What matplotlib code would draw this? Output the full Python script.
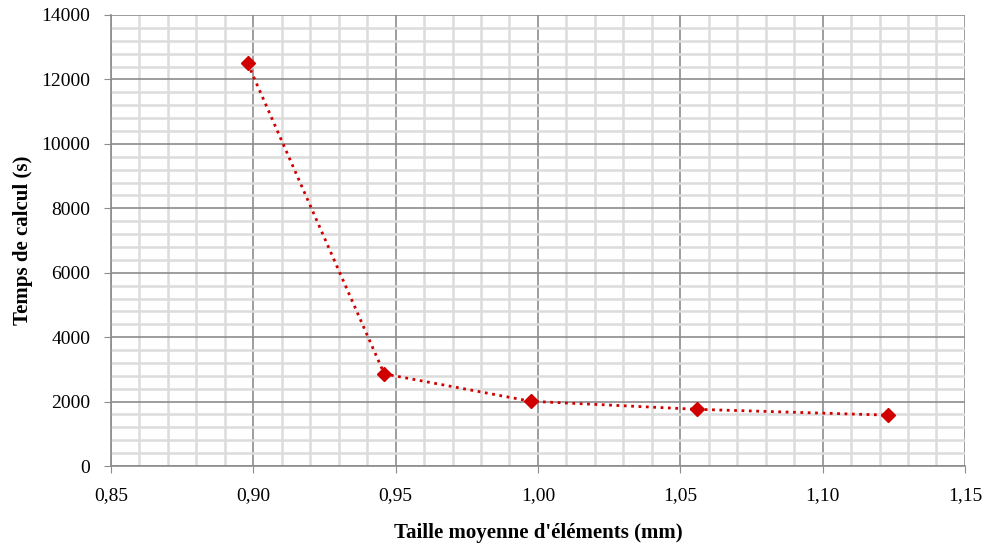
import matplotlib
matplotlib.use('Agg')
from matplotlib import pyplot as plt
from matplotlib.ticker import MultipleLocator, FuncFormatter
import numpy as np

# Data
taille = [0.898, 0.946, 0.9975, 1.056, 1.123]
temps = [12500, 2860, 2010, 1760, 1580]

plt.rcParams['font.family'] = ['Liberation Serif', 'DejaVu Serif']

fig = plt.figure(figsize=(9.86, 5.47), dpi=100)
ax = fig.add_axes([0.1126, 0.148, 0.866, 0.8246])

ax.set_xlim(0.85, 1.15)
ax.set_ylim(0, 14000)
ax.xaxis.set_major_locator(MultipleLocator(0.05))
ax.xaxis.set_minor_locator(MultipleLocator(0.01))
ax.yaxis.set_major_locator(MultipleLocator(2000))
ax.yaxis.set_minor_locator(MultipleLocator(400))
ax.xaxis.set_major_formatter(FuncFormatter(lambda v, p: ('%.2f' % v).replace('.', ',')))

ax.grid(which='minor', color='#dcdcdc', linewidth=1.8)
ax.grid(which='major', color='#8c8c8c', linewidth=1.2)
ax.set_axisbelow(True)

for s in ax.spines.values():
    s.set_color('#8c8c8c')
    s.set_linewidth(1.2)
ax.spines['top'].set_visible(False)
ax.spines['right'].set_visible(False)

ax.tick_params(which='major', length=5, color='#8c8c8c', labelsize=14, pad=10)
ax.tick_params(which='minor', length=0)

ax.plot(taille, temps, color='#d00000', linestyle=':', linewidth=2,
        marker='D', markersize=7)

ax.set_xlabel("Taille moyenne d'éléments (mm)", fontsize=15, fontweight='bold', labelpad=14)
ax.set_ylabel('Temps de calcul (s)', fontsize=15, fontweight='bold', labelpad=6)

plt.savefig('out.png', dpi=100)
